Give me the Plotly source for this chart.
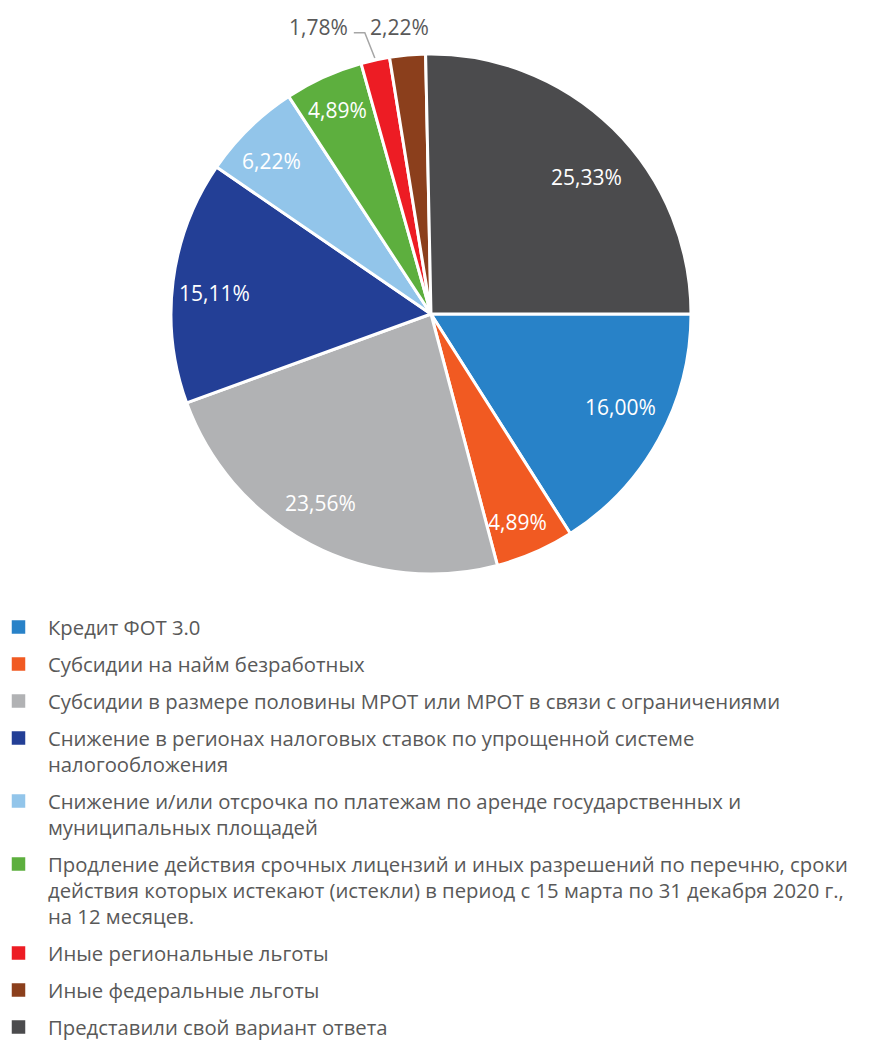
import math
import plotly.graph_objects as go

# --- data ---
labels = [
    "Кредит ФОТ 3.0",
    "Субсидии на найм безработных",
    "Субсидии в размере половины МРОТ или МРОТ в связи с ограничениями",
    "Снижение в регионах налоговых ставок по упрощенной системе налогообложения",
    "Снижение и/или отсрочка по платежам по аренде государственных и муниципальных площадей",
    "Продление действия срочных лицензий и иных разрешений по перечню, сроки действия которых истекают (истекли) в период с 15 марта по 31 декабря 2020 г., на 12 месяцев.",
    "Иные региональные льготы",
    "Иные федеральные льготы",
    "Представили свой вариант ответа",
]
# legend text broken into display lines
legend_lines = [
    ["Кредит ФОТ 3.0"],
    ["Субсидии на найм безработных"],
    ["Субсидии в размере половины МРОТ или МРОТ в связи с ограничениями"],
    ["Снижение в регионах налоговых ставок по упрощенной системе",
     "налогообложения"],
    ["Снижение и/или отсрочка по платежам по аренде государственных и",
     "муниципальных площадей"],
    ["Продление действия срочных лицензий и иных разрешений по перечню, сроки",
     "действия которых истекают (истекли) в период с 15 марта по 31 декабря 2020 г.,",
     "на 12 месяцев."],
    ["Иные региональные льготы"],
    ["Иные федеральные льготы"],
    ["Представили свой вариант ответа"],
]
values = [16.00, 4.89, 23.56, 15.11, 6.22, 4.89, 1.78, 2.22, 25.33]

# --- styling ---
colors = ["#2882C8", "#F15A22", "#B1B2B4", "#233F96", "#92C5EA",
          "#5DAF3E", "#ED1C24", "#8B3F1C", "#4B4B4D"]
outside = [False, False, False, False, False, False, True, True, False]
# per-slice label placement: radius as fraction of pie radius (or pixels
# beyond the rim for outside labels) and an angular nudge in degrees
label_radius = [0.813, 0.867, 0.843, 0.838, 0.849, 0.864, 0, 29, 0.798]
label_nudge = [-2.7, 0.9, 2.8, -1.7, -1.7, -0.3, 0, -1.0, 4.3]

# --- geometry (pixels) ---
W, H = 878, 1040
CX, CY, R = 431, 314, 260
TEXT_GREY = "#595959"
FONT = "Open Sans"
LABEL_SIZE = 21
LEGEND_SIZE = 20.3


def px(x):
    return x / W


def py(y):
    return 1 - y / H


def fmt(v):
    return f"{v:.2f}".replace(".", ",") + "%"


fig = go.Figure(go.Pie(
    labels=labels,
    values=values,
    sort=False,
    direction="clockwise",
    rotation=90,
    marker=dict(colors=colors, line=dict(color="white", width=3)),
    textinfo="none",
    showlegend=False,
    hovertemplate="%{label}<br>%{value:.2f}%<extra></extra>",
    domain=dict(x=[px(CX - R), px(CX + R)], y=[py(CY + R), py(CY - R)]),
))

annotations = []
shapes = []

# slice value labels, placed along each slice's mid angle
total = sum(values)
cum = 0.0
mids = []
for v in values:
    mids.append((cum + v / 2) / total * 360)  # clockwise from 3 o'clock
    cum += v

out_idx = [i for i in range(len(values)) if outside[i]]
big_out = max(out_idx, key=lambda j: values[j])
a_big = math.radians(mids[big_out] + label_nudge[big_out])
row_y = CY + (R + label_radius[big_out]) * math.sin(a_big)

for i, v in enumerate(values):
    a = math.radians(mids[i] + label_nudge[i])
    c, s = math.cos(a), math.sin(a)
    if not outside[i]:
        rr = R * label_radius[i]
        annotations.append(dict(
            x=px(CX + rr * c), y=py(CY + rr * s), xref="paper", yref="paper",
            text=fmt(v), showarrow=False,
            font=dict(family=FONT, size=LABEL_SIZE, color="white"),
            xanchor="center", yanchor="middle"))
    elif i == big_out:
        rr = R + label_radius[i]
        annotations.append(dict(
            x=px(CX + rr * c), y=py(row_y), xref="paper", yref="paper",
            text=fmt(v), showarrow=False,
            font=dict(family=FONT, size=LABEL_SIZE, color=TEXT_GREY),
            xanchor="center", yanchor="middle"))
    else:
        # smaller outside label is pushed left, with a leader line
        am = math.radians(mids[i])
        ex, ey = CX + (R + 2) * math.cos(am), CY + (R + 2) * math.sin(am)
        elx, ely = ex - 10, row_y + 6
        enx = elx - 11
        shapes.append(dict(
            type="path", xref="paper", yref="paper",
            path=f"M {px(ex)},{py(ey)} L {px(elx)},{py(ely)} L {px(enx)},{py(ely)}",
            line=dict(color="#A6A6A6", width=1.5)))
        annotations.append(dict(
            x=px(enx - 4), y=py(row_y), xref="paper", yref="paper",
            text=fmt(v), showarrow=False,
            font=dict(family=FONT, size=LABEL_SIZE, color=TEXT_GREY),
            xanchor="right", yanchor="middle"))

# legend drawn as swatches plus text lines
LEG_TOP, LINE_H, ITEM_GAP = 627, 26, 11
SQ_X, SQ = 18.5, 13.5
TEXT_X = 46
y0 = LEG_TOP
for lines, col in zip(legend_lines, colors):
    shapes.append(dict(
        type="rect", xref="paper", yref="paper",
        x0=px(SQ_X - SQ / 2), x1=px(SQ_X + SQ / 2),
        y0=py(y0 - SQ / 2), y1=py(y0 + SQ / 2),
        fillcolor=col, line=dict(width=0)))
    for k, ln in enumerate(lines):
        annotations.append(dict(
            x=px(TEXT_X), y=py(y0 + k * LINE_H), xref="paper", yref="paper",
            text=ln, showarrow=False,
            font=dict(family=FONT, size=LEGEND_SIZE, color=TEXT_GREY),
            xanchor="left", yanchor="middle"))
    y0 += LINE_H * len(lines) + ITEM_GAP

fig.update_layout(
    width=W, height=H,
    margin=dict(l=0, r=0, t=0, b=0),
    paper_bgcolor="white", plot_bgcolor="white",
    annotations=annotations, shapes=shapes,
    font=dict(family=FONT, color=TEXT_GREY),
)

fig.write_html("out.html")
